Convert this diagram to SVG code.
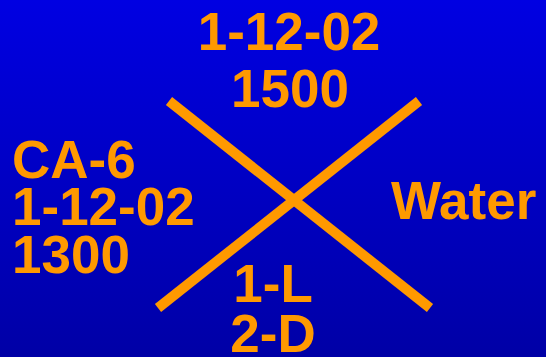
<svg xmlns="http://www.w3.org/2000/svg" width="546" height="357" viewBox="0 0 546 357">
<defs>
<linearGradient id="bg" x1="0" y1="0" x2="0" y2="1">
<stop offset="0" stop-color="#0000e2"/>
<stop offset="1" stop-color="#0000a6"/>
</linearGradient>
<style>
text{font-family:"Liberation Sans",Arial,sans-serif;font-weight:bold;font-size:53px;fill:#ff9900}
.c{text-anchor:middle}
line{stroke:#ff9900;stroke-width:10;stroke-linecap:butt}
</style>
</defs>
<rect width="546" height="357" fill="url(#bg)"/>
<g id="connectors">
<line x1="169" y1="101" x2="430" y2="308"/>
<line x1="419" y1="101" x2="158" y2="308"/>
</g>
<g id="top">
<text class="c" x="289" y="50">1-12-02</text>
<text class="c" x="290" y="107">1500</text>
</g>
<g id="left">
<text x="12" y="178">CA-6</text>
<text x="12" y="225">1-12-02</text>
<text x="12" y="273">1300</text>
</g>
<g id="right">
<text x="391" y="219">Water</text>
</g>
<g id="bottom">
<text class="c" x="273" y="302">1-L</text>
<text class="c" x="273" y="352">2-D</text>
</g>
</svg>
